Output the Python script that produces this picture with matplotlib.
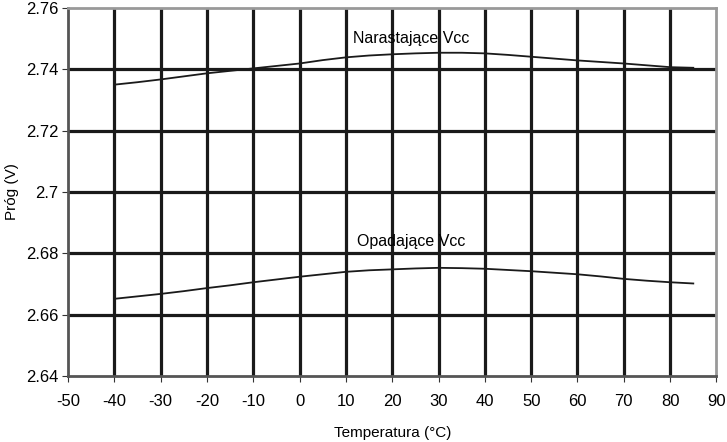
import matplotlib
matplotlib.use('Agg')
import matplotlib.pyplot as plt

plt.rcParams['font.family'] = ['Liberation Sans', 'DejaVu Sans']
plt.rcParams['axes.unicode_minus'] = False

temp = [-40, -35, -30, -25, -20, -15, -10, -5, 0, 5, 10, 15, 20, 25, 30, 35, 40, 45, 50, 55, 60, 65, 70, 75, 80, 85]
narastajace = [2.7350, 2.7358, 2.7367, 2.7377, 2.7387, 2.7395, 2.7403, 2.7411, 2.7419, 2.7430, 2.7439, 2.7445,
               2.7449, 2.7452, 2.7454, 2.7454, 2.7452, 2.7447, 2.7441, 2.7435, 2.7429, 2.7424, 2.7419, 2.7413, 2.7407, 2.7405]
opadajace = [2.6652, 2.6660, 2.6668, 2.6677, 2.6687, 2.6696, 2.6706, 2.6715, 2.6724, 2.6732, 2.6740, 2.6745,
             2.6748, 2.6751, 2.6753, 2.6752, 2.6750, 2.6746, 2.6742, 2.6737, 2.6732, 2.6725, 2.6717, 2.6711, 2.6706, 2.6702]
xticks = list(range(-50, 91, 10))
yticks = [2.64, 2.66, 2.68, 2.70, 2.72, 2.74, 2.76]
yticklabels = ['2.64', '2.66', '2.68', '2.7', '2.72', '2.74', '2.76']

fig = plt.figure(figsize=(7.27, 4.42), dpi=100)
ax = fig.add_axes([0.0935, 0.149, 0.892, 0.833])

for x in range(-40, 81, 10):
    ax.axvline(x, color='#1a1a1a', lw=2.3, zorder=1)
for y in [2.66, 2.68, 2.70, 2.72, 2.74]:
    ax.axhline(y, color='#1a1a1a', lw=2.3, zorder=1)

ax.plot(temp, narastajace, color='#1a1a1a', lw=1.3, zorder=2)
ax.plot(temp, opadajace, color='#1a1a1a', lw=1.3, zorder=2)

ax.text(24, 2.7500, 'Narastające Vcc', ha='center', va='center', fontsize=11.5)
ax.text(24, 2.6840, 'Opadające Vcc', ha='center', va='center', fontsize=11.5)

ax.set_xlim(-50, 90)
ax.set_ylim(2.64, 2.76)
ax.set_xticks(xticks)
ax.set_yticks(yticks)
ax.set_yticklabels(yticklabels)
ax.tick_params(labelsize=12, length=4, color='#333333', direction='out')
ax.tick_params(axis='x', pad=9)
ax.tick_params(axis='y', pad=3)
for s in ax.spines.values():
    s.set_color('#999999')
    s.set_linewidth(2)
ax.spines['left'].set_color('#555555')
ax.spines['bottom'].set_color('#555555')

ax.set_xlabel('Temperatura (°C)', fontsize=11, labelpad=12)
ax.set_ylabel('Próg (V)', fontsize=11, labelpad=5)

fig.savefig('out.png', dpi=100)
